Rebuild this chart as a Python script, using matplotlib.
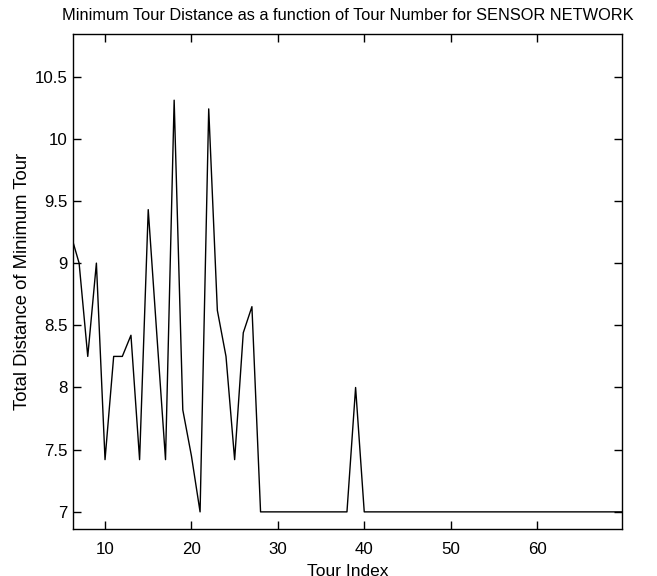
import matplotlib
matplotlib.use("Agg")
import matplotlib.pyplot as plt

# Tour index and minimum tour distance
tour_index = list(range(6, 71))
min_distance = [9.24, 9.0, 8.25, 9.0, 7.42, 8.25, 8.25, 8.42, 7.42, 9.43,
                8.42, 7.42, 10.31, 7.82, 7.45, 7.0, 10.24, 8.62, 8.25, 7.42,
                8.44, 8.65, 7.0] + [7.0] * 10 + [8.0] + [7.0] * 31

x_ticks = [10, 20, 30, 40, 50, 60]
y_ticks = [7, 7.5, 8, 8.5, 9, 9.5, 10, 10.5]
y_tick_labels = ["7", "7.5", "8", "8.5", "9", "9.5", "10", "10.5"]

# Helvetica-like screen font
plt.rcParams["font.family"] = ["Liberation Sans", "DejaVu Sans"]

fig = plt.figure(figsize=(6.57, 5.76), dpi=100)
ax = fig.add_axes([0.1116, 0.0811, 0.8347, 0.8594])

ax.plot(tour_index, min_distance, color="black", linewidth=1.0)

ax.set_xlim(6.33, 69.8)
ax.set_ylim(6.86, 10.84)
ax.set_xticks(x_ticks)
ax.set_yticks(y_ticks)
ax.set_yticklabels(y_tick_labels)
ax.tick_params(direction="in", length=6, width=1, top=True, right=True,
               labelsize=12.2)
ax.tick_params(axis="x", pad=9)
ax.tick_params(axis="y", pad=4)
for spine in ax.spines.values():
    spine.set_linewidth(1.0)

ax.set_title("Minimum Tour Distance as a function of Tour Number for SENSOR NETWORK",
             fontsize=11.8, pad=10)
# the x label sits partly below the figure edge, as in the reference
ax.set_xlabel("Tour Index", fontsize=12.5, labelpad=5)
ax.set_ylabel("Total Distance of Minimum Tour", fontsize=13.3, labelpad=3)

fig.savefig("out.png", dpi=100)
